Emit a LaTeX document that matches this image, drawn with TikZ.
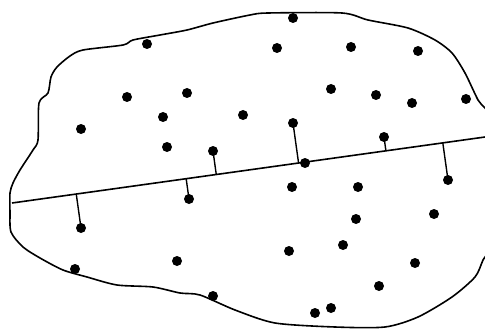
\documentclass[tikz,border=0pt]{standalone}
\usetikzlibrary{calc}
\begin{document}
\begin{tikzpicture}[x=1pt,y=-1pt,
  dot/.style={circle,fill=black,inner sep=0pt,minimum size=10pt},
  outline/.style={line width=1.6pt,line join=round},
  fitline/.style={line width=1.6pt},
  residual/.style={line width=1.4pt}]
\useasboundingbox (0,0) rectangle (485,329);
\clip (0,0) rectangle (485,329);
% region boundary
\draw[outline] plot[smooth cycle,tension=0.45] coordinates {
 (10,212) (10,193) (13,183) (20,170) (33,150) (38,140) (39,103) (48,93)
 (51,77) (57,67) (70,56) (83,50) (123,45) (133,40) (160,35) (187,30)
 (213,23) (250,15) (268,13) (342,13) (368,20) (408,28) (435,40) (452,53)
 (465,73) (478,100) (492,125) (494,235) (483,260) (475,277) (452,297)
 (418,317) (385,327) (335,327) (275,323) (235,310) (200,295) (180,293)
 (153,287) (117,285) (87,277) (63,270) (40,258) (23,247) (11,232)};
% fitted line
\coordinate (L) at (12,203);
\coordinate (R) at (485,137);
\draw[fitline] (L) -- (R);
% points
\node[dot] (p1) at (147,44) {};
\node[dot] (p2) at (293,18) {};
\node[dot] (p3) at (277,48) {};
\node[dot] (p4) at (351,47) {};
\node[dot] (p5) at (418,51) {};
\node[dot] (p6) at (127,97) {};
\node[dot] (p7) at (187,93) {};
\node[dot] (p8) at (163,117) {};
\node[dot] (p9) at (81,129) {};
\node[dot] (p10) at (243,115) {};
\node[dot] (p11) at (331,89) {};
\node[dot] (p12) at (376,95) {};
\node[dot] (p13) at (412,103) {};
\node[dot] (p14) at (466,99) {};
\node[dot] (p15) at (167,147) {};
\node[dot] (p16) at (213,151) {};
\node[dot] (p17) at (293,123) {};
\node[dot] (p18) at (384,137) {};
\node[dot] (p19) at (448,180) {};
\node[dot] (p20) at (305,163) {};
\node[dot] (p21) at (292,187) {};
\node[dot] (p22) at (358,187) {};
\node[dot] (p23) at (189,199) {};
\node[dot] (p24) at (356,219) {};
\node[dot] (p25) at (434,214) {};
\node[dot] (p26) at (81,228) {};
\node[dot] (p27) at (343,245) {};
\node[dot] (p28) at (289,251) {};
\node[dot] (p29) at (177,261) {};
\node[dot] (p30) at (415,263) {};
\node[dot] (p31) at (75,269) {};
\node[dot] (p32) at (379,286) {};
\node[dot] (p33) at (213,296) {};
\node[dot] (p34) at (331,308) {};
\node[dot] (p35) at (315,313) {};
% perpendicular residuals
\foreach \p in {p16,p17,p18,p19,p23,p26}
  \draw[residual] (\p.center) -- ($(L)!(\p.center)!(R)$);
\end{tikzpicture}
\end{document}
